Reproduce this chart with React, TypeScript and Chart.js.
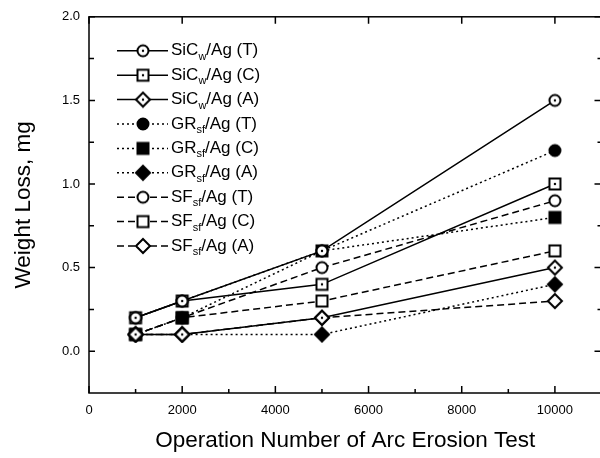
import React, { useEffect, useRef } from 'react';
import { Chart, registerables } from 'chart.js';

Chart.register(...registerables);

// ---------- data ----------
const X_VALUES = [1000, 2000, 5000, 10000];

const SIC_T = [0.2, 0.3, 0.6, 1.5];
const SIC_C = [0.2, 0.3, 0.4, 1.0];
const SIC_A = [0.1, 0.1, 0.2, 0.5];
const GR_T = [0.2, 0.3, 0.6, 1.2];
const GR_C = [0.1, 0.2, 0.6, 0.8];
const GR_A = [0.1, 0.1, 0.1, 0.4];
const SF_T = [0.1, 0.2, 0.5, 0.9];
const SF_C = [0.1, 0.2, 0.3, 0.6];
const SF_A = [0.1, 0.1, 0.2, 0.3];

const SERIES = [SIC_T, SIC_C, SIC_A, GR_T, GR_C, GR_A, SF_T, SF_C, SF_A];
const LABEL_MAIN = ['SiC', 'SiC', 'SiC', 'GR', 'GR', 'GR', 'SF', 'SF', 'SF'];
const LABEL_SUB = ['w', 'w', 'w', 'sf', 'sf', 'sf', 'sf', 'sf', 'sf'];
const LABEL_REST = ['/Ag (T)', '/Ag (C)', '/Ag (A)', '/Ag (T)', '/Ag (C)', '/Ag (A)', '/Ag (T)', '/Ag (C)', '/Ag (A)'];

const X_TICKS = [0, 2000, 4000, 6000, 8000, 10000];
const X_MINOR = [1000, 3000, 5000, 7000, 9000];
const Y_TICKS = [0, 0.5, 1.0, 1.5, 2.0];
const Y_MINOR = [0.25, 0.75, 1.25, 1.75];

const X_TITLE = 'Operation Number of Arc Erosion Test';
const Y_TITLE = 'Weight Loss, mg';

// ---------- styles ----------
const FONT = '"Liberation Sans", Arial, Helvetica, sans-serif';
const SHAPES = ['circle', 'square', 'diamond', 'circle', 'square', 'diamond', 'circle', 'square', 'diamond'];
const FILLS = ['dot', 'dot', 'dot', 'solid', 'solid', 'solid', 'open', 'open', 'open'];
const DASHES: number[][] = [[], [], [], [2, 3], [2, 3], [2, 3], [7, 4], [7, 4], [7, 4]];

function makeMarker(shape: string, fill: string): HTMLCanvasElement {
  const c = document.createElement('canvas');
  c.width = 18;
  c.height = 18;
  const ctx = c.getContext('2d')!;
  const cx = 9, cy = 9;
  ctx.lineWidth = 2;
  ctx.strokeStyle = '#000';
  ctx.fillStyle = fill === 'solid' ? '#000' : '#fff';
  ctx.beginPath();
  if (shape === 'circle') {
    ctx.arc(cx, cy, 5.5, 0, Math.PI * 2);
  } else if (shape === 'square') {
    ctx.rect(cx - 5.5, cy - 5.5, 11, 11);
  } else {
    ctx.moveTo(cx, cy - 7);
    ctx.lineTo(cx + 7, cy);
    ctx.lineTo(cx, cy + 7);
    ctx.lineTo(cx - 7, cy);
    ctx.closePath();
  }
  ctx.fill();
  ctx.stroke();
  if (fill === 'dot') {
    ctx.beginPath();
    ctx.fillStyle = '#000';
    ctx.arc(cx, cy, 1.2, 0, Math.PI * 2);
    ctx.fill();
  }
  return c;
}

const framePlugin = {
  id: 'frameTicks',
  afterDatasetsDraw(chart: any) {
    const { ctx, chartArea: a, scales } = chart;
    const xs = scales.x;
    const ys = scales.y;
    ctx.save();
    ctx.strokeStyle = '#000';
    ctx.lineWidth = 1.5;
    ctx.strokeRect(a.left, a.top, a.right - a.left, a.bottom - a.top);
    ctx.beginPath();
    X_TICKS.forEach((v) => {
      const px = xs.getPixelForValue(v);
      ctx.moveTo(px, a.bottom);
      ctx.lineTo(px, a.bottom - 7);
      ctx.moveTo(px, a.top);
      ctx.lineTo(px, a.top + 7);
    });
    X_MINOR.forEach((v) => {
      const px = xs.getPixelForValue(v);
      ctx.moveTo(px, a.bottom);
      ctx.lineTo(px, a.bottom - 4);
    });
    Y_TICKS.forEach((v) => {
      const py = ys.getPixelForValue(v);
      ctx.moveTo(a.left, py);
      ctx.lineTo(a.left + 6, py);
      ctx.moveTo(a.right, py);
      ctx.lineTo(a.right - 7, py);
    });
    Y_MINOR.forEach((v) => {
      const py = ys.getPixelForValue(v);
      ctx.moveTo(a.left, py);
      ctx.lineTo(a.left + 5, py);
      ctx.moveTo(a.right, py);
      ctx.lineTo(a.right - 4, py);
    });
    ctx.stroke();
    ctx.restore();
  },
};

const legendPlugin = {
  id: 'subLegend',
  afterDraw(chart: any) {
    const { ctx, chartArea: a } = chart;
    const x0 = a.left + 28;
    const y0 = a.top + 34;
    const step = 24.4;
    chart.data.datasets.forEach((ds: any, i: number) => {
      const y = y0 + i * step;
      ctx.save();
      ctx.strokeStyle = '#000';
      ctx.lineWidth = ds.borderWidth;
      ctx.setLineDash(ds.borderDash || []);
      ctx.beginPath();
      ctx.moveTo(x0, y);
      ctx.lineTo(x0 + 51, y);
      ctx.stroke();
      ctx.setLineDash([]);
      const img = ds.pointStyle as HTMLCanvasElement;
      ctx.drawImage(img, x0 + 26 - img.width / 2, y - img.height / 2);
      ctx.fillStyle = '#000';
      ctx.textAlign = 'left';
      ctx.textBaseline = 'middle';
      let x = x0 + 54;
      ctx.font = `17px ${FONT}`;
      ctx.fillText(LABEL_MAIN[i], x, y);
      x += ctx.measureText(LABEL_MAIN[i]).width;
      ctx.font = `11px ${FONT}`;
      ctx.fillText(LABEL_SUB[i], x, y + 6);
      x += ctx.measureText(LABEL_SUB[i]).width;
      ctx.font = `17px ${FONT}`;
      ctx.fillText(LABEL_REST[i], x, y);
      ctx.restore();
    });
  },
};

export default function App() {
  const ref = useRef<HTMLCanvasElement | null>(null);

  useEffect(() => {
    if (!ref.current) return;
    const datasets = SERIES.map((vals, i) => ({
      label: LABEL_MAIN[i] + LABEL_SUB[i] + LABEL_REST[i],
      data: X_VALUES.map((x, j) => ({ x, y: vals[j] })),
      borderColor: '#000',
      backgroundColor: '#000',
      borderWidth: 1.5,
      borderDash: DASHES[i],
      pointStyle: makeMarker(SHAPES[i], FILLS[i]),
      pointRadius: 7,
      pointHoverRadius: 7,
      tension: 0,
      fill: false,
    }));

    const chart = new Chart(ref.current, {
      type: 'line',
      data: { datasets },
      options: {
        animation: false,
        responsive: false,
        events: [],
        layout: { padding: { left: 0, top: 12, right: 8, bottom: 0 } },
        plugins: {
          legend: { display: false },
          tooltip: { enabled: false },
        },
        scales: {
          x: {
            type: 'linear',
            min: 0,
            max: 11000,
            afterBuildTicks: (s: any) => {
              s.ticks = X_TICKS.map((v) => ({ value: v }));
            },
            afterFit: (s: any) => {
              s.height = 65;
            },
            grid: { display: false, drawTicks: false },
            border: { display: false },
            ticks: {
              color: '#000',
              font: { family: FONT, size: 13 },
              padding: 10,
              maxRotation: 0,
              autoSkip: false,
              callback: (v: any) => String(v),
            },
            title: {
              display: true,
              text: X_TITLE,
              color: '#000',
              font: { family: FONT, size: 22.5 },
              padding: { top: 0, bottom: 4 },
            },
          },
          y: {
            type: 'linear',
            min: -0.25,
            max: 2.0,
            afterBuildTicks: (s: any) => {
              s.ticks = Y_TICKS.map((v) => ({ value: v }));
            },
            afterFit: (s: any) => {
              s.width = 89;
            },
            grid: { display: false, drawTicks: false },
            border: { display: false },
            ticks: {
              color: '#000',
              font: { family: FONT, size: 13 },
              padding: 9,
              autoSkip: false,
              callback: (v: any) => Number(v).toFixed(1),
            },
            title: {
              display: true,
              text: Y_TITLE,
              color: '#000',
              font: { family: FONT, size: 22.5 },
              padding: { top: 10, bottom: 0 },
            },
          },
        },
      },
      plugins: [framePlugin, legendPlugin],
    });
    return () => chart.destroy();
  }, []);

  return (
    <div style={{ position: 'fixed', left: 0, top: 0, width: 600, height: 458, overflow: 'hidden', background: '#fff' }}>
      <canvas ref={ref} width={610} height={458} style={{ width: 610, height: 458, display: 'block' }} />
    </div>
  );
}
